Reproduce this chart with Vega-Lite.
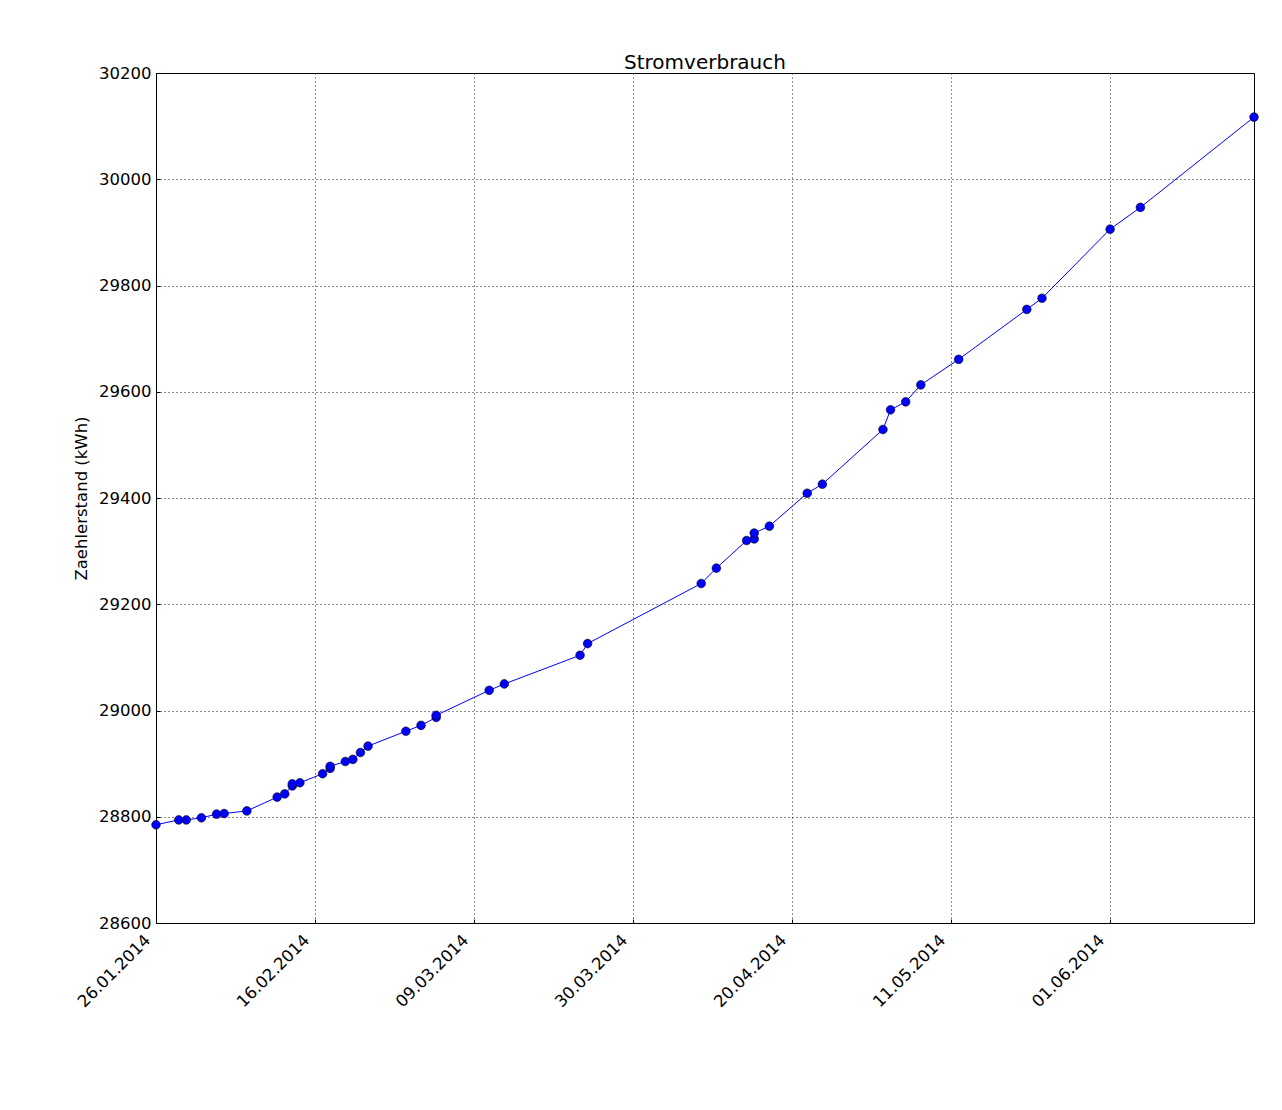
{
  "$schema": "https://vega.github.io/schema/vega-lite/v6.json",
  "width": 1098,
  "height": 850,
  "autosize": {"type": "none"},
  "padding": {"left": 156, "top": 73, "right": 28, "bottom": 187},
  "background": "white",
  "config": {
    "font": "DejaVu Sans",
    "view": {"stroke": "black", "strokeWidth": 1},
    "axis": {
      "labelFont": "DejaVu Sans",
      "titleFont": "DejaVu Sans",
      "labelFontSize": 16.5,
      "titleFontSize": 16.5,
      "labelColor": "black",
      "titleColor": "black",
      "titleFontWeight": "normal",
      "domainColor": "black",
      "grid": true,
      "gridColor": "black",
      "gridDash": [1, 3],
      "gridWidth": 1,
      "gridOpacity": 0.9,
      "ticks": true,
      "tickSize": -4,
      "tickColor": "black",
      "tickWidth": 1
    }
  },
  "title": {
    "text": "Stromverbrauch",
    "font": "DejaVu Sans",
    "fontSize": 20,
    "fontWeight": "normal",
    "color": "black",
    "anchor": "middle",
    "offset": -8
  },
  "data": {
    "values": [
      {"n": 1, "datum": "2014-01-26", "stand": 28785},
      {"n": 2, "datum": "2014-01-29", "stand": 28794},
      {"n": 3, "datum": "2014-01-30", "stand": 28794},
      {"n": 4, "datum": "2014-02-01", "stand": 28798},
      {"n": 5, "datum": "2014-02-03", "stand": 28805},
      {"n": 6, "datum": "2014-02-04", "stand": 28806},
      {"n": 7, "datum": "2014-02-07", "stand": 28811},
      {"n": 8, "datum": "2014-02-11", "stand": 28837},
      {"n": 9, "datum": "2014-02-12", "stand": 28843},
      {"n": 10, "datum": "2014-02-13", "stand": 28858},
      {"n": 11, "datum": "2014-02-13", "stand": 28862},
      {"n": 12, "datum": "2014-02-14", "stand": 28864},
      {"n": 13, "datum": "2014-02-17", "stand": 28881},
      {"n": 14, "datum": "2014-02-18", "stand": 28891},
      {"n": 15, "datum": "2014-02-18", "stand": 28895},
      {"n": 16, "datum": "2014-02-20", "stand": 28904},
      {"n": 17, "datum": "2014-02-21", "stand": 28908},
      {"n": 18, "datum": "2014-02-22", "stand": 28921},
      {"n": 19, "datum": "2014-02-23", "stand": 28933},
      {"n": 20, "datum": "2014-02-28", "stand": 28961},
      {"n": 21, "datum": "2014-03-02", "stand": 28972},
      {"n": 22, "datum": "2014-03-04", "stand": 28987},
      {"n": 23, "datum": "2014-03-04", "stand": 28991},
      {"n": 24, "datum": "2014-03-11", "stand": 29038},
      {"n": 25, "datum": "2014-03-13", "stand": 29050},
      {"n": 26, "datum": "2014-03-23", "stand": 29104},
      {"n": 27, "datum": "2014-03-24", "stand": 29126},
      {"n": 28, "datum": "2014-04-08", "stand": 29239},
      {"n": 29, "datum": "2014-04-10", "stand": 29268},
      {"n": 30, "datum": "2014-04-14", "stand": 29320},
      {"n": 31, "datum": "2014-04-15", "stand": 29323},
      {"n": 32, "datum": "2014-04-15", "stand": 29334},
      {"n": 33, "datum": "2014-04-17", "stand": 29347},
      {"n": 34, "datum": "2014-04-22", "stand": 29409},
      {"n": 35, "datum": "2014-04-24", "stand": 29426},
      {"n": 36, "datum": "2014-05-02", "stand": 29529},
      {"n": 37, "datum": "2014-05-03", "stand": 29566},
      {"n": 38, "datum": "2014-05-05", "stand": 29581},
      {"n": 39, "datum": "2014-05-07", "stand": 29613},
      {"n": 40, "datum": "2014-05-12", "stand": 29661},
      {"n": 41, "datum": "2014-05-21", "stand": 29755},
      {"n": 42, "datum": "2014-05-23", "stand": 29776},
      {"n": 43, "datum": "2014-06-01", "stand": 29906},
      {"n": 44, "datum": "2014-06-05", "stand": 29947},
      {"n": 45, "datum": "2014-06-20", "stand": 30117}
    ]
  },
  "encoding": {
    "x": {
      "field": "datum",
      "type": "temporal",
      "scale": {
        "type": "utc",
        "domain": [
          {"year": 2014, "month": 1, "date": 26, "utc": true},
          {"year": 2014, "month": 6, "date": 20, "utc": true}
        ]
      },
      "axis": {
        "title": null,
        "labelExpr": "utcFormat(datum.value, '%d.%m.%Y')",
        "values": [
          {"year": 2014, "month": 1, "date": 26, "utc": true},
          {"year": 2014, "month": 2, "date": 16, "utc": true},
          {"year": 2014, "month": 3, "date": 9, "utc": true},
          {"year": 2014, "month": 3, "date": 30, "utc": true},
          {"year": 2014, "month": 4, "date": 20, "utc": true},
          {"year": 2014, "month": 5, "date": 11, "utc": true},
          {"year": 2014, "month": 6, "date": 1, "utc": true}
        ],
        "labelAngle": 315,
        "labelAlign": "right",
        "labelBaseline": "bottom",
        "labelPadding": 24,
        "labelOffset": -3,
        "labelFlush": false,
        "labelOverlap": false
      }
    },
    "y": {
      "field": "stand",
      "type": "quantitative",
      "scale": {"domain": [28600, 30200], "nice": false, "zero": false},
      "axis": {
        "title": "Zaehlerstand (kWh)",
        "values": [28600, 28800, 29000, 29200, 29400, 29600, 29800, 30000, 30200],
        "format": "d",
        "labelPadding": 9,
        "titlePadding": 9,
        "labelFlush": false,
        "labelOverlap": false
      }
    },
    "order": {"field": "n", "type": "quantitative"}
  },
  "layer": [
    {"mark": {"type": "line", "color": "#0000ff", "strokeWidth": 1, "clip": true}},
    {"mark": {"type": "point", "shape": "circle", "filled": true, "fill": "#0000ff", "stroke": "black", "strokeWidth": 0.6, "opacity": 1, "size": 75, "clip": false}}
  ]
}
